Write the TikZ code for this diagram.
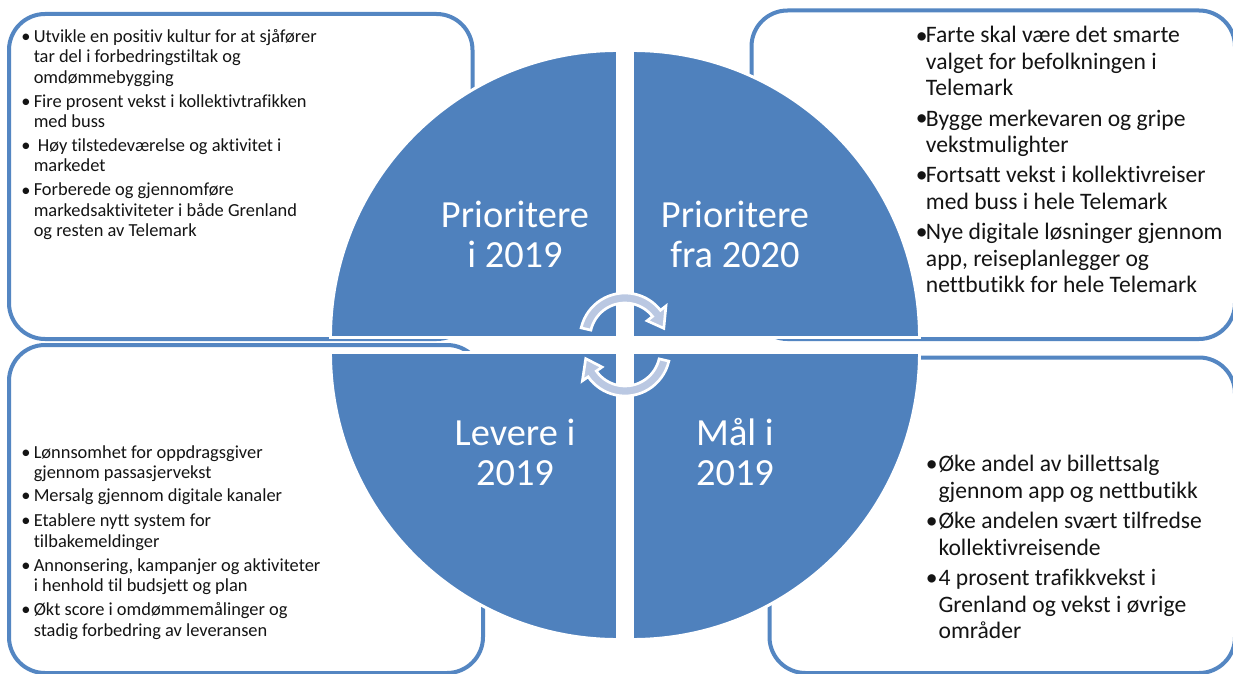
\documentclass[tikz,border=0pt]{standalone}
\usepackage{fontspec}
\setmainfont{Carlito}[Ligatures=NoCommon]
\usetikzlibrary{calc}
\definecolor{qblue}{RGB}{79,129,189}
\definecolor{bline}{RGB}{84,134,194}
\definecolor{arrfill}{RGB}{186,200,226}
\definecolor{txt}{RGB}{20,20,20}
\begin{document}
\begin{tikzpicture}[x=0.75pt,y=-0.75pt,
  box/.style={draw=bline, line width=3pt, rounded corners=27pt, fill=white},
  quad/.style={fill=qblue, draw=white, line width=2.2pt},
  arr/.style={fill=arrfill, draw=white, line width=2pt, line join=miter},
  lbl/.style={font=\fontsize{28.8}{30}\selectfont, align=center, text=white, anchor=base, inner sep=0pt},
  sm/.style={font=\fontsize{13.8}{15.3}\selectfont, align=left, anchor=base west, inner sep=0pt, text=txt},
  lg/.style={font=\fontsize{17.7}{19.7}\selectfont, align=left, anchor=base west, inner sep=0pt, text=txt},
  smb/.style={font=\fontsize{13.8}{15.3}\selectfont, anchor=base west, inner sep=0pt, text=txt},
  lgb/.style={font=\fontsize{17.7}{19.7}\selectfont, anchor=base west, inner sep=0pt, text=txt}]
\useasboundingbox (0,0) rectangle (1233,674);
\fill[white] (0,0) rectangle (1233,674);
% boxes
\draw[box] (9,14) rectangle (472.5,339);
\draw[box] (751.5,10.5) rectangle (1235,339);
\draw[box] (9,345) rectangle (483,673);
\draw[box] (769.5,357.5) rectangle (1235,673);
% quadrants
\path[quad] (617.5,337.5) -- (330.5,337.5) arc[start angle=180, end angle=270, radius=287] -- cycle;
\path[quad] (632.5,337.5) -- (632.5,50.5) arc[start angle=270, end angle=360, radius=287] -- cycle;
\path[quad] (617.5,352.5) -- (617.5,639.5) arc[start angle=90, end angle=180, radius=287] -- cycle;
\path[quad] (632.5,352.5) -- (919.5,352.5) arc[start angle=0, end angle=90, radius=287] -- cycle;
% labels (anchor = baseline of last line)
\node[lbl] (q1) at (515,267) {Prioritere\\i 2019};
\node[lbl] (q2) at (735,267) {Prioritere\\fra 2020};
\node[lbl] (q3) at (515,485) {Levere i\\2019};
\node[lbl] (q4) at (735,485) {Mål i\\2019};
% cycle arrows
\coordinate (c1) at (625,338);
\coordinate (c2) at (625,351);
\path[arr] ($(c1)+(193:45)$) arc[start angle=193, end angle=322, radius=45]
  -- ($(c1)+(322:52)$) -- ($(c1)+(346:40)$) -- ($(c1)+(322:28)$) -- ($(c1)+(322:35)$)
  arc[start angle=322, end angle=193, radius=35] -- cycle;
\path[arr] ($(c2)+(13:45)$) arc[start angle=13, end angle=145, radius=45]
  -- ($(c2)+(145:52)$) -- ($(c2)+(169:40)$) -- ($(c2)+(145:28)$) -- ($(c2)+(145:35)$)
  arc[start angle=145, end angle=13, radius=35] -- cycle;
% top-left list (bullet at first baseline, text anchored at last baseline)
\node[smb] (b11) at (21,42.3) {•};
\node[sm] (t11) at (33.5,83.3) {Utvikle en positiv kultur for at sjåfører\\tar del i forbedringstiltak og\\omdømmebygging};
\node[smb] (b12) at (21,107.3) {•};
\node[sm] (t12) at (33.5,127.7) {Fire prosent vekst i kollektivtrafikken\\med buss};
\node[smb] (b13) at (21,151.7) {•};
\node[sm] (t13) at (33.5,171.9) {\ Høy tilstedeværelse og aktivitet i\\markedet};
\node[smb] (b14) at (21,196) {•};
\node[sm] (t14) at (33.5,236.7) {Forberede og gjennomføre\\markedsaktiviteter i både Grenland\\og resten av Telemark};
% top-right list
\node[lgb] (b21) at (915.5,43.3) {•};
\node[lg] (t21) at (925.7,95.3) {Farte skal være det smarte\\valget for befolkningen i\\Telemark};
\node[lgb] (b22) at (915.5,126) {•};
\node[lg] (t22) at (925.7,152.5) {Bygge merkevaren og gripe\\vekstmulighter};
\node[lgb] (b23) at (915.5,182.7) {•};
\node[lg] (t23) at (925.7,209.1) {Fortsatt vekst i kollektivreiser\\med buss i hele Telemark};
\node[lgb] (b24) at (915.5,239.6) {•};
\node[lg] (t24) at (925.7,292.4) {Nye digitale løsninger gjennom\\app, reiseplanlegger og\\nettbutikk for hele Telemark};
% bottom-left list
\node[smb] (b31) at (21,458.3) {•};
\node[sm] (t31) at (33.5,478.5) {Lønnsomhet for oppdragsgiver\\gjennom passasjervekst};
\node[smb] (b32) at (21,501.7) {•};
\node[sm] (t32) at (33.5,501.7) {Mersalg gjennom digitale kanaler};
\node[smb] (b33) at (21,526.7) {•};
\node[sm] (t33) at (33.5,547.2) {Etablere nytt system for\\tilbakemeldinger};
\node[smb] (b34) at (21,571.5) {•};
\node[sm] (t34) at (33.5,591.8) {Annonsering, kampanjer og aktiviteter\\i henhold til budsjett og plan};
\node[smb] (b35) at (21,615.6) {•};
\node[sm] (t35) at (33.5,636) {Økt score i omdømmemålinger og\\stadig forbedring av leveransen};
% bottom-right list
\node[lgb] (b41) at (925.5,471.9) {•};
\node[lg] (t41) at (938.3,498.2) {Øke andel av billettsalg\\gjennom app og nettbutikk};
\node[lgb] (b42) at (925.5,528.8) {•};
\node[lg] (t42) at (938.3,555.1) {Øke andelen svært tilfredse\\kollektivreisende};
\node[lgb] (b43) at (925.5,585.8) {•};
\node[lg] (t43) at (938.3,638.3) {4 prosent trafikkvekst i\\Grenland og vekst i øvrige\\områder};
\end{tikzpicture}
\end{document}
